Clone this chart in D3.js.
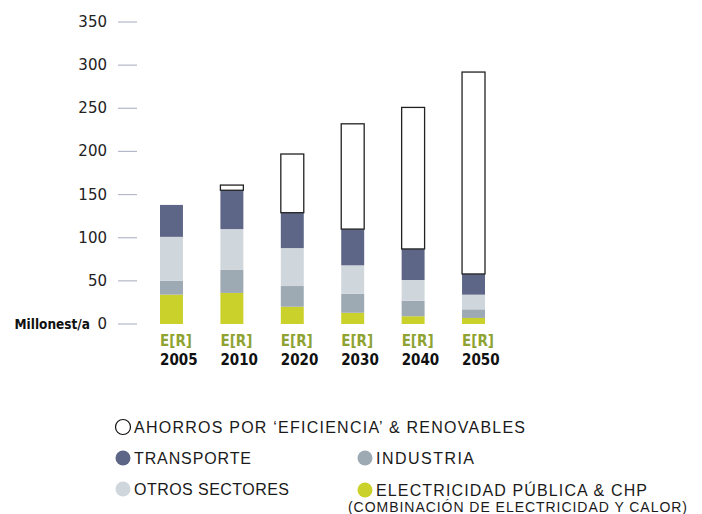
<!DOCTYPE html>
<html>

<head>
    <meta charset="utf-8">
    <title>Millones t/a</title>
    <script src="https://d3js.org/d3.v7.min.js"></script>
    <style>
        body { margin: 0; background: #fff; }
    </style>
</head>

<body>

    <svg width="702" height="514" id="mainSvg"></svg>
    <script>
        // data (Mt/a)
        const years = ["2005", "2010", "2020", "2030", "2040", "2050"];
        const electricidad = [34, 36, 20, 13, 9, 7];
        const industria = [16, 27, 24, 22, 18, 10];
        const otros = [51, 47, 44, 33, 24, 17];
        const transporte = [37, 45, 41, 42, 36, 24];
        const ahorros = [0, 6, 68, 122, 164, 234];
        const yTicks = [0, 50, 100, 150, 200, 250, 300, 350];

        const seriesKeys = ["electricidad", "industria", "otros", "transporte", "ahorros"];
        const colors = {
            electricidad: "#cbd12b",
            industria: "#9daab4",
            otros: "#cfd6dc",
            transporte: "#5d6686",
            ahorros: "#ffffff"
        };

        const table = years.map((y, i) => ({
            year: y,
            electricidad: electricidad[i],
            industria: industria[i],
            otros: otros[i],
            transporte: transporte[i],
            ahorros: ahorros[i]
        }));

        const svg = d3.select("#mainSvg");

        const x = d3.scaleBand().domain(years).range([160, 485]).paddingInner(0.62).paddingOuter(0);
        const y = d3.scaleLinear().domain([0, 350]).range([324, 22]);

        // y axis: short tick lines with labels
        const axis = svg.append("g");
        axis.selectAll("line").data(yTicks).join("line")
            .attr("x1", 118).attr("x2", 137)
            .attr("y1", d => y(d)).attr("y2", d => y(d))
            .attr("stroke", "#b4b8c8").attr("stroke-width", 1.2);
        axis.selectAll("text").data(yTicks).join("text")
            .attr("x", 107).attr("y", d => y(d) + 5)
            .attr("text-anchor", "end")
            .attr("font-family", "DejaVu Sans")
            .attr("font-size", 15)
            .attr("fill", "#222")
            .text(d => d);
        svg.append("text")
            .attr("x", 90).attr("y", 329)
            .attr("text-anchor", "end")
            .attr("font-family", "DejaVu Sans Condensed")
            .attr("font-weight", "bold")
            .attr("font-size", 13.5)
            .attr("fill", "#111")
            .text("Millonest/a");

        // stacked bars
        const stacked = d3.stack().keys(seriesKeys)(table);
        const layers = svg.append("g").selectAll("g").data(stacked).join("g")
            .attr("fill", d => colors[d.key]);
        layers.selectAll("rect").data(d => d.map(v => Object.assign(v, { key: d.key })))
            .join("rect")
            .filter(d => d[1] - d[0] > 0)
            .attr("x", d => x(d.data.year))
            .attr("width", x.bandwidth())
            .attr("y", d => y(d[1]))
            .attr("height", d => y(d[0]) - y(d[1]))
            .attr("stroke", d => d.key === "ahorros" ? "#222" : "none")
            .attr("stroke-width", 1.3);

        // x labels (left aligned with the bars)
        const xl = svg.append("g");
        xl.selectAll(".er").data(years).join("text")
            .attr("class", "er")
            .attr("x", d => x(d)).attr("y", 346)
            .attr("font-family", "DejaVu Sans Condensed")
            .attr("font-weight", "bold")
            .attr("font-size", 15)
            .attr("fill", "#8fa333")
            .text("E[R]");
        xl.selectAll(".yr").data(years).join("text")
            .attr("class", "yr")
            .attr("x", d => x(d)).attr("y", 365)
            .attr("font-family", "DejaVu Sans Condensed")
            .attr("font-weight", "bold")
            .attr("font-size", 15)
            .attr("fill", "#111")
            .text(d => d);

        // legend
        const legendItems = [
            { key: "ahorros", label: "AHORROS POR ‘EFICIENCIA’ & RENOVABLES", cx: 123, cy: 427, len: 391 },
            { key: "transporte", label: "TRANSPORTE", cx: 123, cy: 458, len: 117 },
            { key: "otros", label: "OTROS SECTORES", cx: 123, cy: 489, len: 155 },
            { key: "industria", label: "INDUSTRIA", cx: 365, cy: 458, len: 98 },
            { key: "electricidad", label: "ELECTRICIDAD PÚBLICA & CHP", cx: 365, cy: 490, len: 271 }
        ];
        const lg = svg.append("g").selectAll("g").data(legendItems).join("g");
        lg.append("circle")
            .attr("cx", d => d.cx).attr("cy", d => d.cy).attr("r", 7.5)
            .attr("fill", d => colors[d.key])
            .attr("stroke", d => d.key === "ahorros" ? "#111" : "none")
            .attr("stroke-width", 1.2);
        lg.append("text")
            .attr("x", d => d.cx + 11).attr("y", d => d.cy + 6)
            .attr("font-family", "Liberation Sans")
            .attr("font-size", 16)
            .attr("fill", "#1a1a1a")
            .attr("textLength", d => d.len)
            .attr("lengthAdjust", "spacing")
            .text(d => d.label);
        svg.append("text")
            .attr("x", 348).attr("y", 512)
            .attr("font-family", "Liberation Sans")
            .attr("font-size", 14)
            .attr("fill", "#1a1a1a")
            .attr("textLength", 339)
            .attr("lengthAdjust", "spacing")
            .text("(COMBINACIÓN DE ELECTRICIDAD Y CALOR)");
    </script>
</body>

</html>
